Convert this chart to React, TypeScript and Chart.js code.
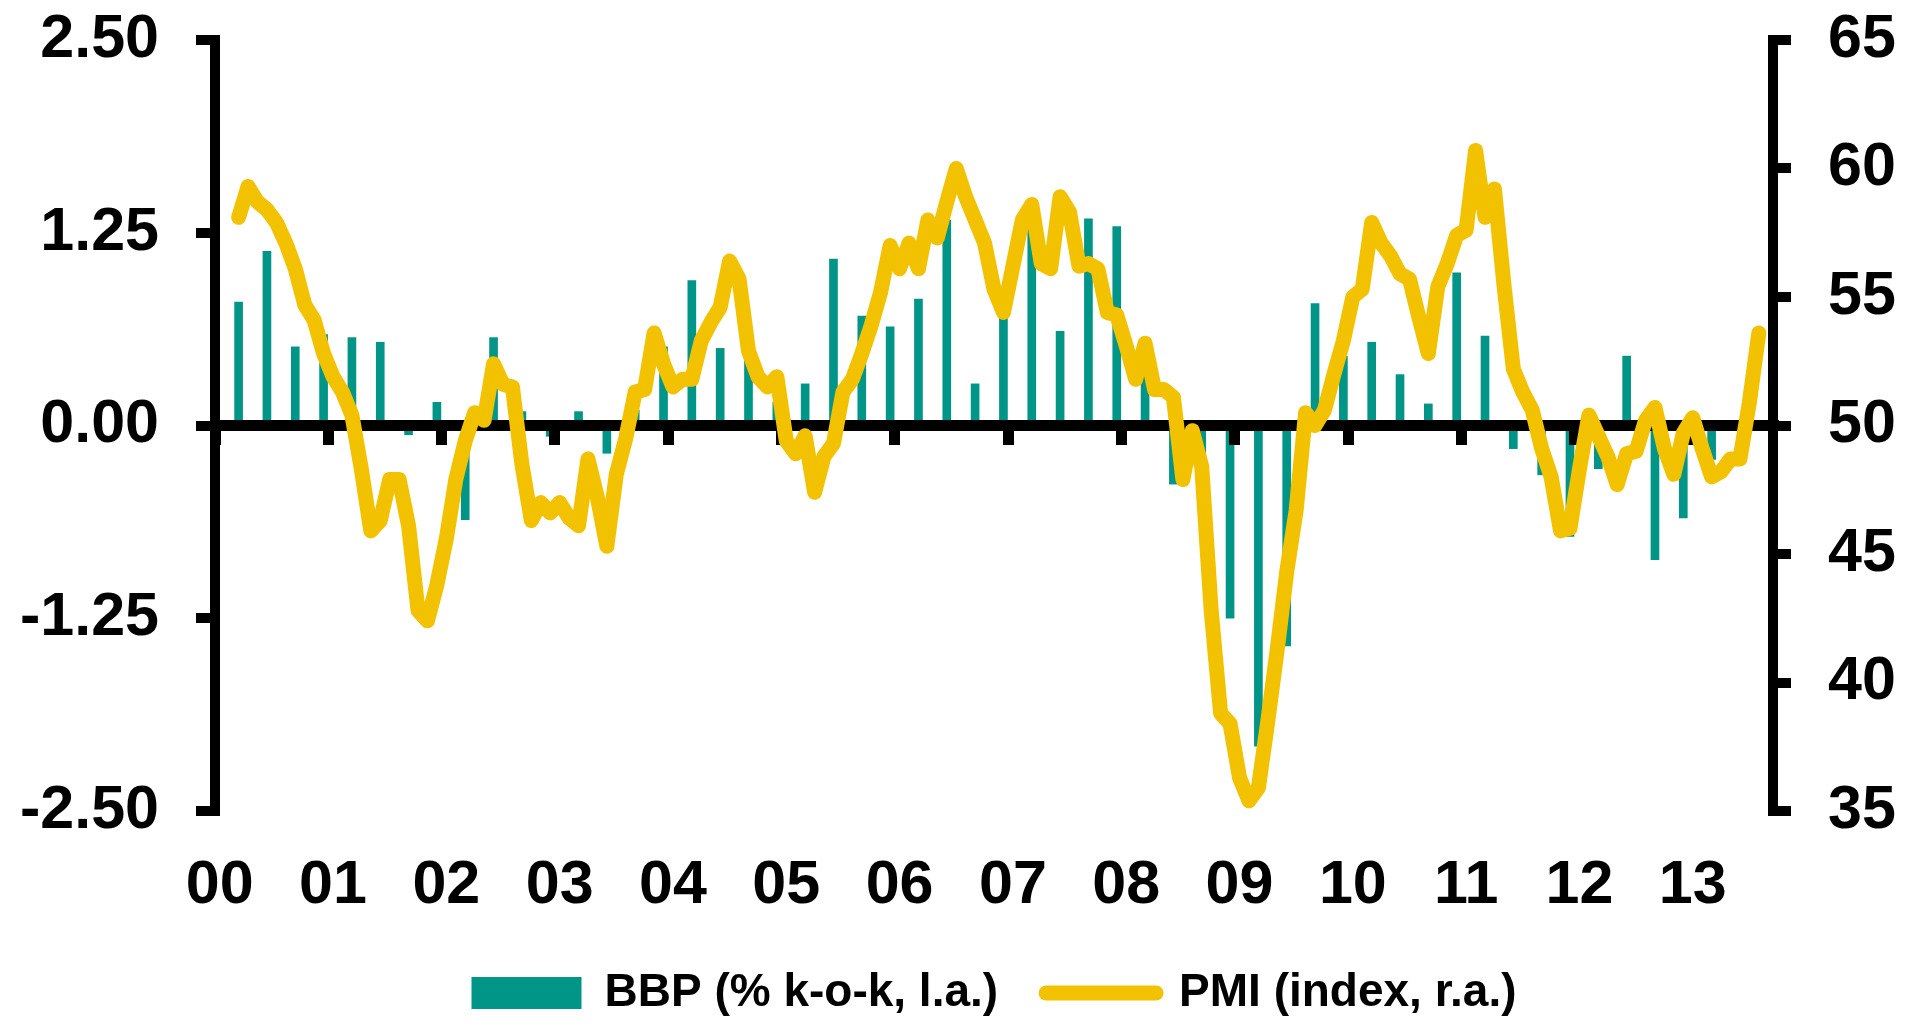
import React, { useEffect, useRef } from 'react';
import { Chart, registerables } from 'chart.js';

Chart.register(...registerables);

// ---------- data ----------
const yearLabels = ['00', '01', '02', '03', '04', '05', '06', '07', '08', '09', '10', '11', '12', '13'];
const monthsOnAxis = 165; // Jan 2000 .. Sep 2013
const pmiFirstMonth = 2; // PMI series starts March 2000 (months counted from Jan 2000)

// PMI (index, r.a.), monthly
const pmi2000 = [58.1, 59.3, 58.7, 58.4, 57.9, 57.1, 56.1, 54.7, 54.1, 52.8];
const pmi2001 = [51.9, 51.3, 50.4, 48.3, 45.9, 46.3, 47.9, 47.9, 46.1, 42.8, 42.4, 43.8];
const pmi2002 = [45.6, 47.9, 49.4, 50.5, 50.2, 52.4, 51.6, 51.5, 48.5, 46.3, 47.0, 46.6];
const pmi2003 = [47.0, 46.4, 46.1, 48.7, 47.2, 45.3, 48.1, 49.5, 51.3, 51.4, 53.6, 52.4];
const pmi2004 = [51.5, 51.8, 51.8, 53.3, 54.0, 54.6, 56.4, 55.7, 52.9, 51.9, 51.5, 51.9];
const pmi2005 = [49.4, 48.9, 49.6, 47.4, 48.8, 49.3, 51.3, 51.8, 52.8, 53.9, 55.2, 57.0];
const pmi2006 = [56.1, 57.1, 56.1, 58.0, 57.3, 58.7, 60.0, 58.9, 58.0, 57.1, 55.3, 54.4];
const pmi2007 = [56.2, 58.0, 58.6, 56.3, 56.1, 58.9, 58.3, 56.2, 56.3, 56.1, 54.4, 54.3];
const pmi2008 = [53.1, 51.8, 53.2, 51.4, 51.4, 51.1, 47.9, 49.8, 48.4, 42.8, 38.8, 38.4];
const pmi2009 = [36.3, 35.4, 35.9, 38.5, 41.3, 44.3, 46.7, 50.5, 50.0, 50.6, 52.0, 53.3];
const pmi2010 = [55.0, 55.3, 57.9, 57.1, 56.6, 55.9, 55.7, 54.2, 52.8, 55.4, 56.3, 57.4];
const pmi2011 = [57.6, 60.7, 58.1, 59.2, 55.5, 52.2, 51.3, 50.6, 49.1, 48.0, 45.9, 46.0];
const pmi2012 = [48.3, 50.4, 49.6, 48.8, 47.7, 48.9, 49.0, 50.2, 50.7, 49.1, 48.1, 49.7];
const pmi2013 = [50.3, 49.1, 48.0, 48.2, 48.7, 48.7, 50.9, 53.6];

// BBP (% k-o-k, l.a.), quarterly from Q1 2000
const gdp2000 = [0.80, 1.13, 0.51, 0.59];
const gdp2001 = [0.57, 0.54, -0.06, 0.15];
const gdp2002 = [-0.61, 0.57, 0.09, -0.07];
const gdp2003 = [0.09, -0.18, 0.10, 0.51];
const gdp2004 = [0.94, 0.50, 0.45, 0.15];
const gdp2005 = [0.27, 1.08, 0.71, 0.64];
const gdp2006 = [0.82, 1.33, 0.27, 0.74];
const gdp2007 = [1.30, 0.61, 1.34, 1.29];
const gdp2008 = [0.55, -0.38, -0.20, -1.25];
const gdp2009 = [-2.08, -1.43, 0.79, 0.45];
const gdp2010 = [0.54, 0.33, 0.14, 0.99];
const gdp2011 = [0.58, -0.15, -0.32, -0.72];
const gdp2012 = [-0.28, 0.45, -0.87, -0.60];
const gdp2013 = [-0.22];

const pmiValues = [
  ...pmi2000, ...pmi2001, ...pmi2002, ...pmi2003, ...pmi2004, ...pmi2005, ...pmi2006,
  ...pmi2007, ...pmi2008, ...pmi2009, ...pmi2010, ...pmi2011, ...pmi2012, ...pmi2013,
];
const gdpValues = [
  ...gdp2000, ...gdp2001, ...gdp2002, ...gdp2003, ...gdp2004, ...gdp2005, ...gdp2006,
  ...gdp2007, ...gdp2008, ...gdp2009, ...gdp2010, ...gdp2011, ...gdp2012, ...gdp2013,
];

const TEAL = '#009587';
const YELLOW = '#F2C200';
const FONT = "'Liberation Sans', Arial, Helvetica, sans-serif";

export default function App() {
  const canvasRef = useRef<HTMLCanvasElement | null>(null);

  useEffect(() => {
    if (!canvasRef.current) return;

    // month centre positions on a linear month axis
    const pmiPoints = pmiValues.map((v, i) => ({ x: pmiFirstMonth + i + 0.5, y: v }));
    const gdpPoints = gdpValues.map((v, q) => ({ x: q * 3 + 2 + 0.5, y: v }));

    const tickFont = { family: FONT, size: 61, weight: 'bold' as const };

    const redrawZeroAxis = {
      id: 'redrawZeroAxis',
      beforeDatasetDraw(chart: any, args: any) {
        if (args.index === 1) {
          chart.scales.x.draw(chart.chartArea);
        }
      },
    };

    const chart = new Chart(canvasRef.current, {
      type: 'bar',
      data: {
        datasets: [
          {
            type: 'bar',
            label: 'BBP (% k-o-k, l.a.)',
            data: gdpPoints as any,
            backgroundColor: TEAL,
            borderWidth: 0,
            barThickness: 8,
            xAxisID: 'x',
            yAxisID: 'y',
            order: 1,
          },
          {
            type: 'line',
            label: 'PMI (index, r.a.)',
            data: pmiPoints as any,
            borderColor: YELLOW,
            backgroundColor: YELLOW,
            borderWidth: 15,
            borderJoinStyle: 'round',
            borderCapStyle: 'round',
            pointRadius: 0,
            tension: 0,
            fill: false,
            xAxisID: 'x',
            yAxisID: 'y1',
            order: 0,
          },
        ] as any,
      },
      options: {
        responsive: false,
        animation: false,
        devicePixelRatio: 1,
        layout: { padding: { top: 40, left: 0, right: 0, bottom: 0 } },
        plugins: {
          tooltip: { enabled: false },
          title: { display: false },
          legend: {
            display: true,
            position: 'bottom',
            fullSize: false,
            align: 'center',
            labels: {
              usePointStyle: true,
              pointStyleWidth: 110,
              boxWidth: 110,
              boxHeight: 32,
              padding: 48,
              color: '#000',
              font: { family: FONT, size: 46, weight: 'bold' },
              generateLabels: () => [
                {
                  text: 'BBP (% k-o-k, l.a.)',
                  fillStyle: TEAL,
                  strokeStyle: TEAL,
                  lineWidth: 0,
                  pointStyle: 'rect',
                  rotation: 0,
                  hidden: false,
                  fontColor: '#000',
                  datasetIndex: 0,
                },
                {
                  text: 'PMI (index, r.a.)',
                  fillStyle: YELLOW,
                  strokeStyle: YELLOW,
                  lineWidth: 15,
                  lineCap: 'round',
                  pointStyle: 'line',
                  rotation: 0,
                  hidden: false,
                  fontColor: '#000',
                  datasetIndex: 1,
                },
              ] as any,
            },
          },
        },
        scales: {
          x: {
            type: 'linear',
            min: 0,
            max: monthsOnAxis,
            offset: false,
            position: { y: 0 } as any,
            ticks: { display: false },
            afterBuildTicks: (s: any) => {
              s.ticks = yearLabels.map((_, i) => ({ value: i * 12 }));
            },
            grid: {
              offset: false,
              drawOnChartArea: false,
              drawTicks: true,
              tickLength: 14,
              lineWidth: 11,
              color: '#000',
            },
            border: { display: true, width: 11, color: '#000' },
          },
          xLabels: {
            type: 'linear',
            min: 0,
            max: monthsOnAxis,
            offset: false,
            position: 'bottom',
            afterBuildTicks: (s: any) => {
              s.ticks = yearLabels.map((_, i) => ({ value: i * 12 + 0.5 }));
            },
            ticks: {
              autoSkip: false,
              maxRotation: 0,
              minRotation: 0,
              padding: 39,
              color: '#000',
              font: tickFont,
              callback: (v: any) => yearLabels[Math.floor(Number(v) / 12)],
            },
            grid: { display: false, drawTicks: false, offset: false },
            border: { display: false },
            afterFit: (s: any) => {
              s.height = 111;
            },
          },
          y: {
            type: 'linear',
            position: 'left',
            min: -2.5,
            max: 2.5,
            ticks: {
              stepSize: 1.25,
              padding: 37,
              color: '#000',
              font: tickFont,
              callback: (v: any) => Number(v).toFixed(2),
            },
            grid: {
              drawOnChartArea: false,
              drawTicks: true,
              tickLength: 19,
              lineWidth: 10,
              color: '#000',
            },
            border: { display: true, width: 10, color: '#000' },
            afterFit: (s: any) => {
              s.width = 215;
              s.paddingTop = 0;
              s.paddingBottom = 0;
            },
          },
          y1: {
            type: 'linear',
            position: 'right',
            min: 35,
            max: 65,
            ticks: {
              stepSize: 5,
              padding: 37,
              color: '#000',
              font: tickFont,
            },
            grid: {
              drawOnChartArea: false,
              drawTicks: true,
              tickLength: 18,
              lineWidth: 10,
              color: '#000',
            },
            border: { display: true, width: 10, color: '#000' },
            afterFit: (s: any) => {
              s.width = 142;
              s.paddingTop = 0;
              s.paddingBottom = 0;
            },
          },
        },
      } as any,
      plugins: [redrawZeroAxis],
    });

    return () => {
      chart.destroy();
    };
  }, []);

  return (
    <div style={{ position: 'absolute', left: 0, top: 0, width: 1915, height: 1026, background: '#fff' }}>
      <canvas ref={canvasRef} width={1915} height={1026} />
    </div>
  );
}
